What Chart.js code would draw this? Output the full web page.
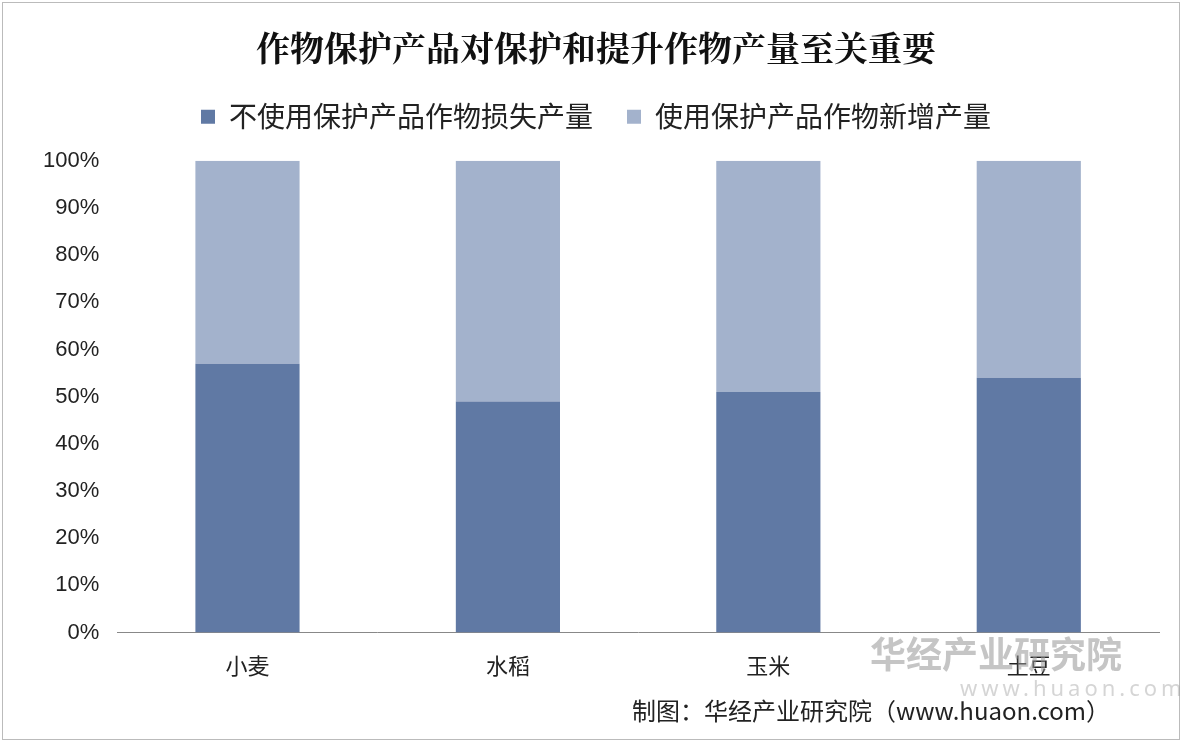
<!DOCTYPE html>
<html><head><meta charset="utf-8">
<script src="https://cdn.jsdelivr.net/npm/chart.js@4"></script>
<style>
html,body{margin:0;padding:0;background:#fff;}
#wrap{position:absolute;left:2px;top:2px;width:1178px;height:738px;border:1px solid #bbb;box-sizing:border-box;}
#foot{position:absolute;left:632px;top:692px;font:24px "Noto Sans CJK SC";color:#222;}
#wm{position:absolute;left:870px;top:626px;font:bold 36px "Noto Sans CJK SC";color:rgba(150,150,150,0.55);}
#wm2{position:absolute;left:960px;top:672px;font:22px "Noto Sans";color:rgba(150,150,150,0.4);letter-spacing:4px;}
</style></head><body>
<div id="wrap"><canvas id="c" width="1176" height="736"></canvas></div>
<div id="wm">华经产业研究院</div>
<div id="wm2">www.huaon.com</div>
<div id="foot">制图：华经产业研究院（www.huaon.com）</div>
<script>
const categories=["小麦","水稻","玉米","土豆"];
const lossWithout=[57,49,51,54];
const gainWith=[43,51,49,46];
const yTicks=["0%","10%","20%","30%","40%","50%","60%","70%","80%","90%","100%"];
new Chart(document.getElementById('c'),{
type:'bar',
data:{labels:categories,datasets:[
{label:'不使用保护产品作物损失产量',data:lossWithout,backgroundColor:'#6079a4'},
{label:'使用保护产品作物新增产量',data:gainWith,backgroundColor:'#a3b2cc'}]},
plugins:[{id:'legendGap',afterInit(chart){const lg=chart.legend;const f=lg.fit;lg.fit=function(){f.call(this);this.height+=20;};}}],
options:{responsive:false,animation:false,
layout:{padding:{left:30,right:20,bottom:48,top:10}},
datasets:{bar:{barPercentage:0.4,categoryPercentage:1}},
plugins:{
title:{display:true,text:'作物保护产品对保护和提升作物产量至关重要',font:{family:'Noto Serif CJK SC, Noto Sans CJK SC',size:34,weight:'bold'},color:'#111',padding:{top:15,bottom:0}},
legend:{labels:{boxWidth:14,boxHeight:14,font:{family:'Noto Sans CJK SC',size:28},color:'#222',padding:34}},
tooltip:{enabled:false}},
scales:{
x:{stacked:true,grid:{display:false},border:{color:'#888'},ticks:{font:{family:'Noto Sans CJK SC',size:22},color:'#222',padding:12}},
y:{stacked:true,min:0,max:100,grid:{display:false},border:{display:false},
ticks:{stepSize:10,font:{family:'Liberation Sans',size:22},color:'#222',padding:10,callback:(v,i)=>yTicks[i]}}}
}});
</script></body></html>
